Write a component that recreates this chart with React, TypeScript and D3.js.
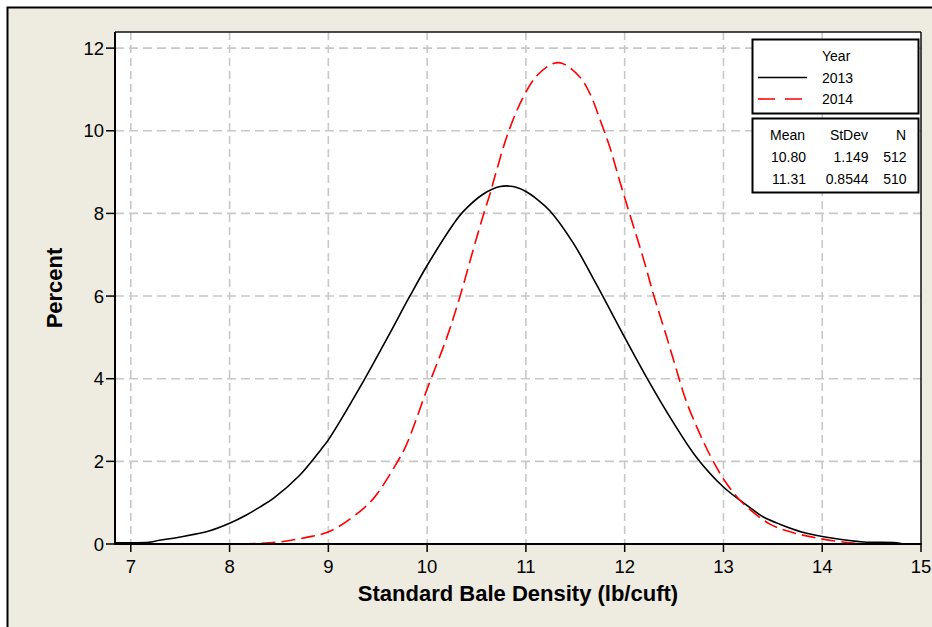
import React, { useEffect } from "react";
import * as d3 from "d3";

const xTicks = [7, 8, 9, 10, 11, 12, 13, 14, 15];
const yTicks = [0, 2, 4, 6, 8, 10, 12];
const xGrid = [7, 8, 9, 10, 11, 12, 13, 14];
const yGrid = [2, 4, 6, 8, 10, 12];

const years = ["2013", "2014"];
const statHeaders = ["Mean", "StDev", "N"];
const means = ["10.80", "11.31"];
const stdevs = ["1.149", "0.8544"];
const counts = ["512", "510"];

const x2013 = [6.84, 7.0, 7.18, 7.29, 7.5, 7.8, 8.0, 8.17, 8.31, 8.44, 8.7, 8.93, 9.0, 9.36, 9.6, 9.83, 10.0, 10.26, 10.36, 10.57, 10.74, 10.87, 11.0, 11.12, 11.24, 11.48, 11.71, 12.0, 12.22, 12.49, 12.72, 13.0, 13.27, 13.4, 13.57, 13.81, 14.11, 14.42, 14.75, 14.82];
const y2013 = [0.03, 0.03, 0.04, 0.09, 0.17, 0.32, 0.5, 0.7, 0.9, 1.1, 1.64, 2.3, 2.52, 3.96, 5.0, 6.02, 6.74, 7.72, 8.03, 8.47, 8.65, 8.65, 8.53, 8.33, 8.07, 7.28, 6.3, 5.0, 4.04, 2.95, 2.12, 1.38, 0.88, 0.66, 0.48, 0.28, 0.14, 0.05, 0.03, 0.0];

const x2014 = [8.12, 8.47, 8.78, 9.01, 9.25, 9.45, 9.69, 9.79, 10.0, 10.2, 10.33, 10.47, 10.57, 10.64, 10.69, 10.82, 10.97, 11.11, 11.28, 11.37, 11.55, 11.65, 11.75, 11.85, 11.95, 12.05, 12.19, 12.3, 12.42, 12.52, 12.62, 12.76, 12.89, 13.03, 13.2, 13.47, 13.64, 13.85, 14.11, 14.4];
const y2014 = [0, 0.04, 0.16, 0.3, 0.66, 1.08, 1.95, 2.4, 3.75, 5.0, 5.97, 7.15, 7.97, 8.5, 8.93, 9.95, 10.8, 11.33, 11.63, 11.63, 11.29, 10.89, 10.27, 9.6, 8.78, 7.99, 6.9, 5.97, 5.05, 4.25, 3.48, 2.67, 2.03, 1.47, 0.98, 0.48, 0.32, 0.19, 0.08, 0];

const W = 932;
const H = 627;
const L = 115, R = 921, T = 32, B = 544;
const FONT = "'Liberation Sans', Arial, sans-serif";

export default function App() {
  useEffect(() => {
    document.body.style.margin = "0";
  }, []);

  const x = d3.scaleLinear().domain([6.84, 15]).range([L, R]);
  const y = d3.scaleLinear().domain([0, 12.39]).range([B, T]);

  const line = d3
    .line<[number, number]>()
    .x((d) => x(d[0]))
    .y((d) => y(d[1]))
    .curve(d3.curveCatmullRom.alpha(0.5));

  const d2013 = line(x2013.map((v, i) => [v, y2013[i]] as [number, number])) || "";
  const d2014 = line(x2014.map((v, i) => [v, y2014[i]] as [number, number])) || "";

  return (
    <svg
      width={W}
      height={H}
      style={{ display: "block", position: "absolute", left: 0, top: 0 }}
      fontFamily={FONT}
    >
      <rect x={0} y={0} width={W} height={H} fill="#ffffff" />
      <rect x={7.5} y={7.5} width={W + 10} height={H + 10} fill="#EEEBE1" stroke="#000" strokeWidth={2} />
      <defs>
        <clipPath id="plotclip">
          <rect x={L} y={T} width={R - L} height={B - T} />
        </clipPath>
      </defs>
      <rect x={L} y={T} width={R - L} height={B - T} fill="#ffffff" />
      {xGrid.map((v) => (
        <line key={"gx" + v} x1={x(v)} x2={x(v)} y1={T} y2={B} stroke="#c8c8c8" strokeWidth={1.6} strokeDasharray="8,5" />
      ))}
      {yGrid.map((v) => (
        <line key={"gy" + v} x1={L} x2={R} y1={y(v)} y2={y(v)} stroke="#c8c8c8" strokeWidth={1.6} strokeDasharray="9,5" />
      ))}
      <g clipPath="url(#plotclip)">
        <path d={d2013} fill="none" stroke="#000" strokeWidth={1.6} />
        <path d={d2014} fill="none" stroke="#ff0000" strokeWidth={1.6} strokeDasharray="14,6" />
      </g>
      <line x1={L} x2={R} y1={T} y2={T} stroke="#111" strokeWidth={1.5} />
      <line x1={R} x2={R} y1={T} y2={B} stroke="#111" strokeWidth={1.5} />
      <line x1={L} x2={L} y1={T} y2={B + 1} stroke="#000" strokeWidth={2} />
      <line x1={L - 1} x2={R + 1} y1={B} y2={B} stroke="#000" strokeWidth={2} />
      {xTicks.map((v) => (
        <g key={"xt" + v}>
          <line x1={x(v)} x2={x(v)} y1={B} y2={B + 8} stroke="#000" strokeWidth={1.5} />
          <text x={x(v)} y={573} textAnchor="middle" fontSize={18.5} fill="#000">
            {v}
          </text>
        </g>
      ))}
      {yTicks.map((v) => (
        <g key={"yt" + v}>
          <line x1={L - 9} x2={L} y1={y(v)} y2={y(v)} stroke="#000" strokeWidth={1.5} />
          <text x={104} y={y(v) + 6.5} textAnchor="end" fontSize={18.5} fill="#000">
            {v}
          </text>
        </g>
      ))}
      <text x={(L + R) / 2} y={601} textAnchor="middle" fontSize={22} fontWeight="bold" fill="#000">
        Standard Bale Density (lb/cuft)
      </text>
      <text
        transform={`translate(61.5, ${(T + B) / 2}) rotate(-90)`}
        textAnchor="middle"
        fontSize={22}
        fontWeight="bold"
        fill="#000"
      >
        Percent
      </text>
      <rect x={752.5} y={39.5} width={166} height={74} fill="#ffffff" stroke="#000" strokeWidth={2} />
      <text x={822} y={60.5} fontSize={14} fill="#000">Year</text>
      <line x1={758} x2={807} y1={77.5} y2={77.5} stroke="#000" strokeWidth={1.6} />
      <text x={822} y={82.5} fontSize={14} fill="#000">{years[0]}</text>
      <line x1={758} x2={807} y1={99} y2={99} stroke="#ff0000" strokeWidth={1.6} strokeDasharray="17,10" />
      <text x={822} y={104} fontSize={14} fill="#000">{years[1]}</text>

      <rect x={752.5} y={118.5} width={166} height={74} fill="#ffffff" stroke="#000" strokeWidth={2} />
      <text x={805} y={139.5} textAnchor="end" fontSize={14} fill="#000">{statHeaders[0]}</text>
      <text x={868} y={139.5} textAnchor="end" fontSize={14} fill="#000">{statHeaders[1]}</text>
      <text x={906} y={139.5} textAnchor="end" fontSize={14} fill="#000">{statHeaders[2]}</text>
      {means.map((m, i) => (
        <g key={"st" + i}>
          <text x={806} y={161.7 + i * 22.3} textAnchor="end" fontSize={14} fill="#000">{m}</text>
          <text x={868.5} y={161.7 + i * 22.3} textAnchor="end" fontSize={14} fill="#000">{stdevs[i]}</text>
          <text x={906.5} y={161.7 + i * 22.3} textAnchor="end" fontSize={14} fill="#000">{counts[i]}</text>
        </g>
      ))}
    </svg>
  );
}
